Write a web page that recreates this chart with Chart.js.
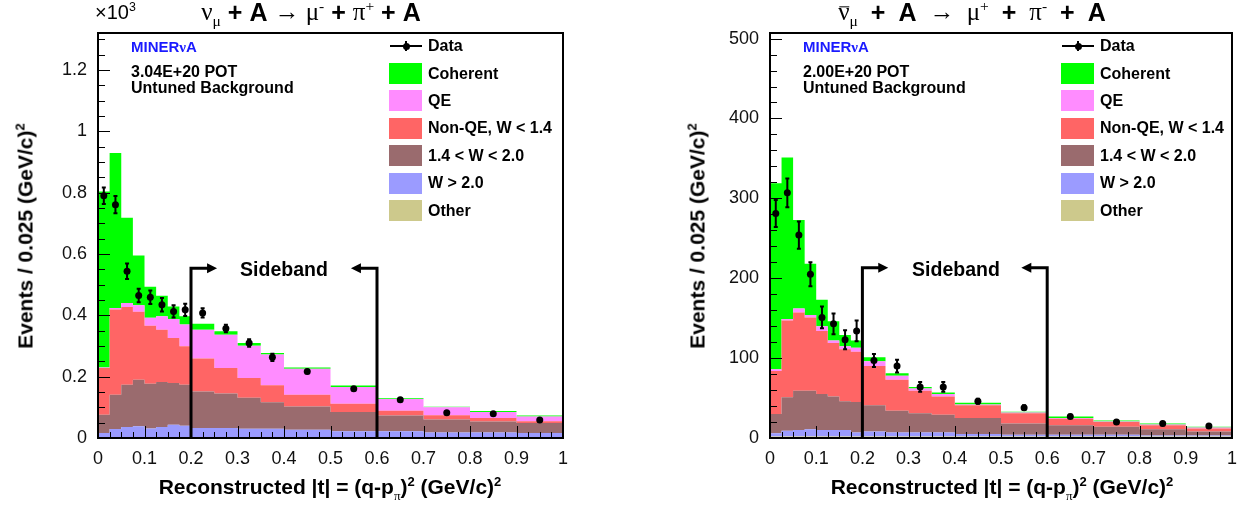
<!DOCTYPE html>
<html>
<head>
<meta charset="utf-8">
<script src="https://cdn.jsdelivr.net/npm/chart.js@4.4.0/dist/chart.umd.min.js"></script>
<style>
  body { margin: 0; background: #fff; }
  #page { position: relative; width: 1247px; height: 508px; overflow: hidden; font-family: "Liberation Sans", Arial, sans-serif; color: #000; }
  .pane { position: absolute; top: 0; height: 508px; }
  .t { position: absolute; white-space: nowrap; font-weight: bold; transform: translate(0, -50%); }
  .c { transform: translate(-50%, -50%); }
  .ytitle { position: absolute; white-space: nowrap; font-weight: bold; font-size: 21px; transform: translate(-50%, -50%) rotate(-90deg); }
  .xtitle { position: absolute; white-space: nowrap; font-weight: bold; font-size: 21px; transform: translate(-50%, -50%); }
  .title { position: absolute; white-space: nowrap; font-size: 25px; transform: translate(-50%, -50%); }
  .title b { font-family: "Liberation Sans", Arial, sans-serif; }
  .gr { font-family: "Liberation Serif", "DejaVu Serif", serif; font-weight: normal; }
  .bar { position: relative; }
  .bar i { position: absolute; left: 1px; right: 0; top: 0.3em; border-top: 1.5px solid #000; }
  sub, sup { font-size: 62%; }
  .box { position: absolute; width: 33px; height: 21px; }
  .leg { position: absolute; white-space: nowrap; font-weight: bold; font-size: 16px; transform: translate(0, -50%); }
  .dline { position: absolute; height: 2px; background: #000; width: 32px; }
  .ddot { position: absolute; width: 7px; height: 7px; border-radius: 50%; background: #000; }
  .dbar { position: absolute; width: 2px; height: 10px; background: #000; }
  .info { position: absolute; white-space: nowrap; font-weight: bold; font-size: 16px; transform: translate(0, -50%); }
</style>
</head>
<body>
<div id="page">
  <div class="pane" style="left:0; width:624px;"><canvas id="nuChart"></canvas></div>
  <div class="pane" style="left:624px; width:623px;"><canvas id="nubarChart"></canvas></div>
</div>
<script>
// bin edges in |t| (GeV/c)^2 — variable width bins
const binEdges = [0, 0.025, 0.05, 0.075, 0.1, 0.125, 0.15, 0.175, 0.2, 0.25, 0.3, 0.35, 0.4, 0.5, 0.6, 0.7, 0.8, 0.9, 1.0];

const legendLabels = ['Data', 'Coherent', 'QE', 'Non-QE, W < 1.4', '1.4 < W < 2.0', 'W > 2.0', 'Other'];
const sidebandEdges = [0.2, 0.6];

// neutrino (events / 0.025 (GeV/c)^2)
const nuOther    = [3, 3, 3, 3, 3, 3, 3, 3, 3, 3, 3, 3, 3, 3, 3, 3, 3, 3];
const nuHighW    = [13, 26, 33, 35, 28, 33, 40, 37, 30, 30, 27, 27, 24, 19, 19, 15, 15, 13];
const nuMidW     = [60, 112, 138, 152, 146, 147, 136, 134, 119, 112, 101, 87, 76, 63, 51, 42, 36, 33];
const nuNonQE    = [152, 278, 253, 222, 189, 170, 147, 125, 107, 83, 65, 55, 38, 27, 16, 14, 11, 6];
const nuQE       = [2, 5, 13, 21, 26, 44, 62, 71, 94, 109, 105, 100, 85, 54, 38, 26, 20, 15];
const nuCoherent = [574, 506, 278, 162, 101, 67, 41, 27, 20, 11, 9, 5, 4, 5, 3, 2, 3, 3];
const nuData     = [790, 761, 544, 465, 459, 435, 413, 418, 408, 357, 310, 263, 217, 161, 125, 82, 79, 59];
const nuDataErr  = [27, 28, 25, 22, 22, 22, 20, 20, 15, 12, 12, 12, 6, 5, 5, 4, 4, 3];
const nuYTicks   = [0, 200, 400, 600, 800, 1000, 1200];

// antineutrino
const nubOther    = [2, 2, 2, 2, 2, 2, 2, 2, 2, 2, 2, 2, 2, 2, 2, 2, 2, 2];
const nubHighW    = [4, 7, 8, 9, 8, 8, 8, 5, 6, 5, 5, 5, 3, 2, 2, 2, 1, 1];
const nubMidW     = [24, 42, 49, 48, 45, 42, 36, 38, 33, 27, 24, 22, 20, 14, 12, 10, 8, 5];
const nubNonQE    = [54, 96, 98, 92, 79, 67, 65, 63, 49, 39, 28, 23, 16, 13, 8, 6, 5, 4];
const nubQE       = [2, 2, 5, 3, 6, 3, 4, 5, 6, 5, 3, 3, 1, 1, 1, 0.5, 1, 1];
const nubCoherent = [233, 202, 111, 64, 33, 24, 14, 9, 5, 3, 2, 2, 2, 1, 2, 1.5, 1, 1];
const nubData     = [281, 307, 254, 205, 151, 143, 123, 134, 97, 90, 64, 64, 46, 38, 27, 20, 18, 15];
const nubDataErr  = [17, 18, 17, 15, 13.5, 13, 12, 13, 8, 8, 6, 6, 3, 3, 2, 2, 2, 2];
const nubYTicks   = [0, 100, 200, 300, 400, 500];

const xTicks = [0, 0.1, 0.2, 0.3, 0.4, 0.5, 0.6, 0.7, 0.8, 0.9, 1];

const colors = {
  other: '#cdc98c',
  highW: '#9b9bff',
  midW: '#9a6b6e',
  nonQE: '#ff6565',
  qe: '#ff8cff',
  coherent: '#00ff00'
};

// step outline of a histogram: each bin gives its two edges
function stepPoints(vals) {
  const pts = [];
  vals.forEach((v, i) => {
    pts.push({ x: binEdges[i], y: v });
    pts.push({ x: binEdges[i + 1], y: v });
  });
  return pts;
}

function stackDatasets(parts) {
  const running = binEdges.slice(1).map(() => 0);
  return parts.map((p, k) => {
    p.vals.forEach((v, i) => { running[i] += v; });
    return {
      type: 'line',
      data: stepPoints(running.slice()),
      backgroundColor: p.color,
      borderWidth: 0,
      pointRadius: 0,
      tension: 0,
      fill: k === 0 ? 'origin' : '-1'
    };
  });
}

// ROOT-like frame: box, inward ticks, error bars, sideband arrows
const rootFrame = {
  id: 'rootFrame',
  afterDatasetsDraw(chart, args, opts) {
    const { ctx, chartArea: a, scales: { x, y } } = chart;
    ctx.save();

    // error bars
    ctx.strokeStyle = '#000';
    ctx.lineWidth = 2;
    opts.values.forEach((v, i) => {
      const cx = x.getPixelForValue((binEdges[i] + binEdges[i + 1]) / 2);
      const y1 = y.getPixelForValue(v - opts.errors[i]);
      const y2 = y.getPixelForValue(v + opts.errors[i]);
      ctx.beginPath();
      ctx.moveTo(cx, y1); ctx.lineTo(cx, y2);
      ctx.moveTo(cx - 2, y1); ctx.lineTo(cx + 2, y1);
      ctx.moveTo(cx - 2, y2); ctx.lineTo(cx + 2, y2);
      ctx.stroke();
    });

    // ticks
    ctx.lineWidth = 1;
    ctx.beginPath();
    for (let k = 0; k <= 40; k++) {
      const px = Math.round(x.getPixelForValue(k * 0.025)) + 0.5;
      const len = k % 4 === 0 ? 12 : 6;
      ctx.moveTo(px, a.bottom); ctx.lineTo(px, a.bottom - len);
    }
    for (let v = 0; v <= y.max; v += opts.yMinor) {
      const py = Math.round(y.getPixelForValue(v)) + 0.5;
      const len = Math.round(v / opts.yMinor) % opts.nSub === 0 ? 12 : 7;
      ctx.moveTo(a.left, py); ctx.lineTo(a.left + len, py);
    }
    ctx.stroke();

    // sideband arrows
    const ay = y.getPixelForValue(opts.arrowY);
    ctx.lineWidth = 3;
    ctx.fillStyle = '#000';
    sidebandEdges.forEach((e, j) => {
      const px = x.getPixelForValue(e);
      const dir = j === 0 ? 1 : -1;
      const tip = x.getPixelForValue(e + dir * 0.056);
      ctx.beginPath();
      ctx.moveTo(px, a.bottom);
      ctx.lineTo(px, ay);
      ctx.lineTo(tip - dir * 8, ay);
      ctx.stroke();
      ctx.beginPath();
      ctx.moveTo(tip, ay);
      ctx.lineTo(tip - dir * 10, ay - 5);
      ctx.lineTo(tip - dir * 10, ay + 5);
      ctx.closePath();
      ctx.fill();
    });

    // frame
    ctx.lineWidth = 2;
    ctx.strokeRect(a.left, a.top, a.right - a.left, a.bottom - a.top);
    ctx.restore();
  }
};

function makeChart(id, parts, data, errs, yMax, yMinor, nSub, yTicks, arrowY, yWidth, padRight, fmt) {
  const datasets = stackDatasets(parts);
  datasets.push({
    type: 'scatter',
    data: data.map((v, i) => ({ x: (binEdges[i] + binEdges[i + 1]) / 2, y: v })),
    backgroundColor: '#000',
    borderWidth: 0,
    pointRadius: 3.5,
    showLine: false,
    order: -1
  });
  const tickFont = { family: 'Liberation Sans', size: 18 };
  return new Chart(document.getElementById(id), {
    type: 'line',
    data: { datasets },
    options: {
      responsive: true,
      maintainAspectRatio: false,
      animation: false,
      layout: { padding: { top: 33, right: padRight, left: 0, bottom: 0 } },
      plugins: {
        legend: { display: false },
        tooltip: { enabled: false },
        rootFrame: { values: data, errors: errs, yMinor, nSub, arrowY }
      },
      scales: {
        x: {
          type: 'linear', min: 0, max: 1,
          grid: { display: false, drawTicks: false },
          border: { display: false },
          afterBuildTicks: (s) => { s.ticks = xTicks.map(v => ({ value: v })); },
          ticks: { padding: 10, font: tickFont, color: '#111', maxRotation: 0, autoSkip: false, callback: (v) => String(v) },
          afterFit: (s) => { s.height = 70; }
        },
        y: {
          min: 0, max: yMax,
          grid: { display: false, drawTicks: false },
          border: { display: false },
          afterBuildTicks: (s) => { s.ticks = yTicks.map(v => ({ value: v })); },
          ticks: { padding: 11, font: tickFont, color: '#111', autoSkip: false, callback: fmt },
          afterFit: (s) => { s.width = yWidth; }
        }
      }
    },
    plugins: [rootFrame]
  });
}

makeChart('nuChart', [
  { vals: nuOther, color: colors.other },
  { vals: nuHighW, color: colors.highW },
  { vals: nuMidW, color: colors.midW },
  { vals: nuNonQE, color: colors.nonQE },
  { vals: nuQE, color: colors.qe },
  { vals: nuCoherent, color: colors.coherent }
], nuData, nuDataErr, 1321, 50, 4, nuYTicks, 554, 98, 61, (v) => String(v / 1000));

makeChart('nubarChart', [
  { vals: nubOther, color: colors.other },
  { vals: nubHighW, color: colors.highW },
  { vals: nubMidW, color: colors.midW },
  { vals: nubNonQE, color: colors.nonQE },
  { vals: nubQE, color: colors.qe },
  { vals: nubCoherent, color: colors.coherent }
], nubData, nubDataErr, 507, 20, 5, nubYTicks, 213, 146, 12, (v) => String(v));

// text overlays
const page = document.getElementById('page');
function addHtml(html) { page.insertAdjacentHTML('beforeend', html); }

const legendColors = [colors.coherent, colors.qe, colors.nonQE, colors.midW, colors.highW, colors.other];
function addPanelText(x0, pot) {
  // experiment label
  addHtml(`<div class="info" style="left:${x0 + 33}px; top:47px; color:#1a1aff; font-size:15px;">MINER<span class="gr" style="font-weight:bold">ν</span>A</div>`);
  addHtml(`<div class="info" style="left:${x0 + 33}px; top:72px;">${pot}</div>`);
  addHtml(`<div class="info" style="left:${x0 + 33}px; top:88px;">Untuned Background</div>`);
  // legend
  const lx = x0 + 292;
  addHtml(`<div class="dline" style="left:${lx}px; top:45px;"></div>`);
  addHtml(`<div class="dbar" style="left:${lx + 15}px; top:41px;"></div>`);
  addHtml(`<div class="ddot" style="left:${lx + 12.5}px; top:42.5px;"></div>`);
  addHtml(`<div class="leg" style="left:${lx + 38}px; top:46px;">${legendLabels[0]}</div>`);
  legendColors.forEach((c, i) => {
    const cy = 73.5 + i * 27.4;
    addHtml(`<div class="box" style="left:${lx - 1}px; top:${cy - 10.5}px; background:${c};"></div>`);
    addHtml(`<div class="leg" style="left:${lx + 38}px; top:${cy}px;">${legendLabels[i + 1]}</div>`);
  });
  // sideband label
  addHtml(`<div class="t c" style="left:${x0 + 186}px; top:269px; font-size:19.5px;">Sideband</div>`);
  // axis titles
  addHtml(`<div class="xtitle" style="left:${x0 + 232}px; top:489px;">Reconstructed |t| = (q-p<sub class="gr">π</sub>)<sup>2</sup> (GeV/c)<sup>2</sup></div>`);
}
addPanelText(98, '3.04E+20 POT');
addPanelText(770, '2.00E+20 POT');

addHtml(`<div class="ytitle" style="left:25px; top:236px;">Events / 0.025 (GeV/c)<sup>2</sup></div>`);
addHtml(`<div class="ytitle" style="left:697px; top:236px;">Events / 0.025 (GeV/c)<sup>2</sup></div>`);
addHtml(`<div style="position:absolute; left:95px; top:0px; font-size:20px; white-space:nowrap;">×10<sup>3</sup></div>`);

addHtml(`<div class="title" style="left:311px; top:14px;"><span class="gr">ν<sub>μ</sub></span> <b>+ A</b> <span class="gr">→ μ<sup>-</sup></span> <b>+</b> <span class="gr">π<sup>+</sup></span> <b>+ A</b></div>`);
addHtml(`<div class="title" style="left:972px; top:14px; word-spacing:6px;"><span class="gr"><span class="bar">ν<i></i></span><sub>μ</sub></span> <b>+ A</b> <span class="gr">→ μ<sup>+</sup></span> <b>+</b> <span class="gr">π<sup>-</sup></span> <b>+ A</b></div>`);
</script>
</body>
</html>
